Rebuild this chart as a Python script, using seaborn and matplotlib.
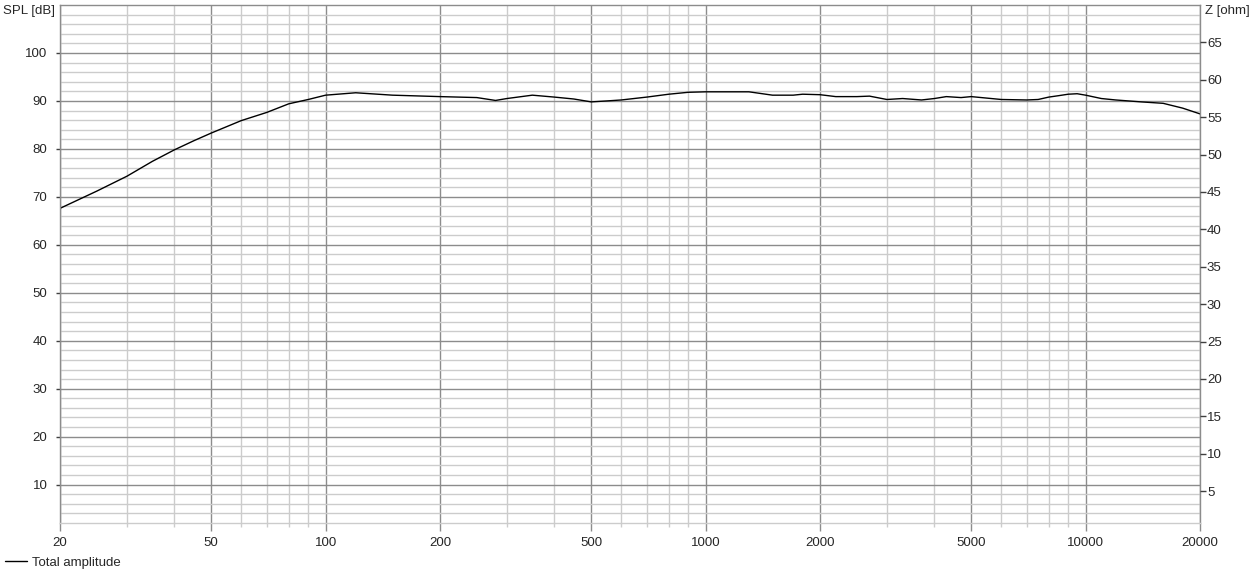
import numpy as np
import pandas as pd
import matplotlib
matplotlib.use("Agg")
import matplotlib.pyplot as plt
import seaborn as sns

# frequency response
freqs = [20, 25, 30, 35, 40, 45, 50, 60, 70, 80, 90, 100,
         120, 150, 200, 250, 280, 300, 350, 400, 450, 500,
         550, 600, 700, 800, 900, 1000, 1300, 1500, 1700, 1800, 2000,
         2200, 2500, 2700, 3000, 3300, 3700, 4000, 4300, 4700, 5000,
         6000, 7000, 7500, 8000, 8500, 9000, 9500, 10000,
         11000, 12000, 14000, 16000, 18000, 20000]
spl = [67.6, 71.2, 74.3, 77.4, 79.8, 81.7, 83.3, 85.9, 87.6, 89.4, 90.3, 91.2,
       91.7, 91.2, 90.9, 90.7, 90.1, 90.5, 91.2, 90.8, 90.4, 89.8,
       90.0, 90.2, 90.8, 91.4, 91.8, 91.9, 91.9, 91.2, 91.2, 91.4, 91.3,
       90.9, 90.9, 91.0, 90.3, 90.5, 90.2, 90.5, 90.9, 90.7, 90.9,
       90.3, 90.2, 90.3, 90.8, 91.1, 91.4, 91.5, 91.2,
       90.5, 90.2, 89.8, 89.5, 88.5, 87.3]

x_major = [20, 50, 100, 200, 500, 1000, 2000, 5000, 10000, 20000]
x_labels = ["20", "50", "100", "200", "500", "1000", "2000", "5000", "10000", "20000"]
x_minor = [30, 40, 60, 70, 80, 90, 300, 400, 600, 700, 800, 900,
           3000, 4000, 6000, 7000, 8000, 9000]
spl_ticks = [10, 20, 30, 40, 50, 60, 70, 80, 90, 100]
z_ticks = [5, 10, 15, 20, 25, 30, 35, 40, 45, 50, 55, 60, 65]

df = pd.DataFrame({"freq": freqs, "spl": spl})

sns.set_style("white")
plt.rcParams["font.family"] = ["Liberation Sans", "DejaVu Sans"]
plt.rcParams["font.size"] = 9.5

dark = "#8c8c8c"
light = "#cccccc"

fig = plt.figure(figsize=(12.57, 5.75), dpi=100)
ax = fig.add_axes([60 / 1257, 1 - 523 / 575, 1140 / 1257, 518 / 575])

sns.lineplot(data=df, x="freq", y="spl", ax=ax, color="black", lw=1.0,
             label="Total amplitude")

ax.set_xscale("log")
ax.set_xlim(20, 20000)
y_lo, y_hi = 2, 110
ax.set_ylim(y_lo, y_hi)

ax.set_xticks(x_major)
ax.set_xticklabels(x_labels)
ax.set_xticks(x_minor, minor=True)
ax.set_xticklabels([], minor=True)
ax.set_yticks(spl_ticks)
ax.set_yticks(np.arange(4, 110, 2), minor=True)

ax.grid(which="major", color=dark, lw=1.0)
ax.grid(which="minor", color=light, lw=1.0)
ax.set_axisbelow(True)

ax.tick_params(axis="x", which="major", length=6, width=1, color=dark,
               direction="out", pad=4, bottom=True)
ax.tick_params(axis="x", which="minor", length=3, width=1, color=light,
               direction="out", bottom=True)
ax.tick_params(axis="y", which="major", length=3, width=1, color="#404040",
               direction="out", pad=6, left=True)
ax.tick_params(axis="y", which="minor", length=0)

for side in ["left", "top", "right"]:
    ax.spines[side].set_color(dark)
    ax.spines[side].set_linewidth(1.0)
ax.spines["bottom"].set_color(light)
ax.spines["bottom"].set_linewidth(1.0)
ax.set_xlabel("")
ax.set_ylabel("")

# impedance axis, scaled so 70 ohm sits at the top
z_per_db = 0.6413
ax2 = ax.twinx()
ax2.set_ylim(70 - (y_hi - y_lo) * z_per_db, 70)
ax2.set_yticks(z_ticks)
ax2.tick_params(axis="y", length=4, width=1, color="#404040", pad=1)
ax2.grid(False)
for s in ax2.spines.values():
    s.set_visible(False)

fig.text(3 / 1257, 1 - 11 / 575, "SPL [dB]", va="center", ha="left")
fig.text(1205 / 1257, 1 - 11 / 575, "Z [ohm]", va="center", ha="left")

ax.legend(loc="lower left", bbox_to_anchor=(5 / 1257, 6 / 575),
          bbox_transform=fig.transFigure, frameon=False,
          handlelength=1.65, handletextpad=0.4, borderpad=0,
          borderaxespad=0)

fig.savefig("out.png", dpi=100)
